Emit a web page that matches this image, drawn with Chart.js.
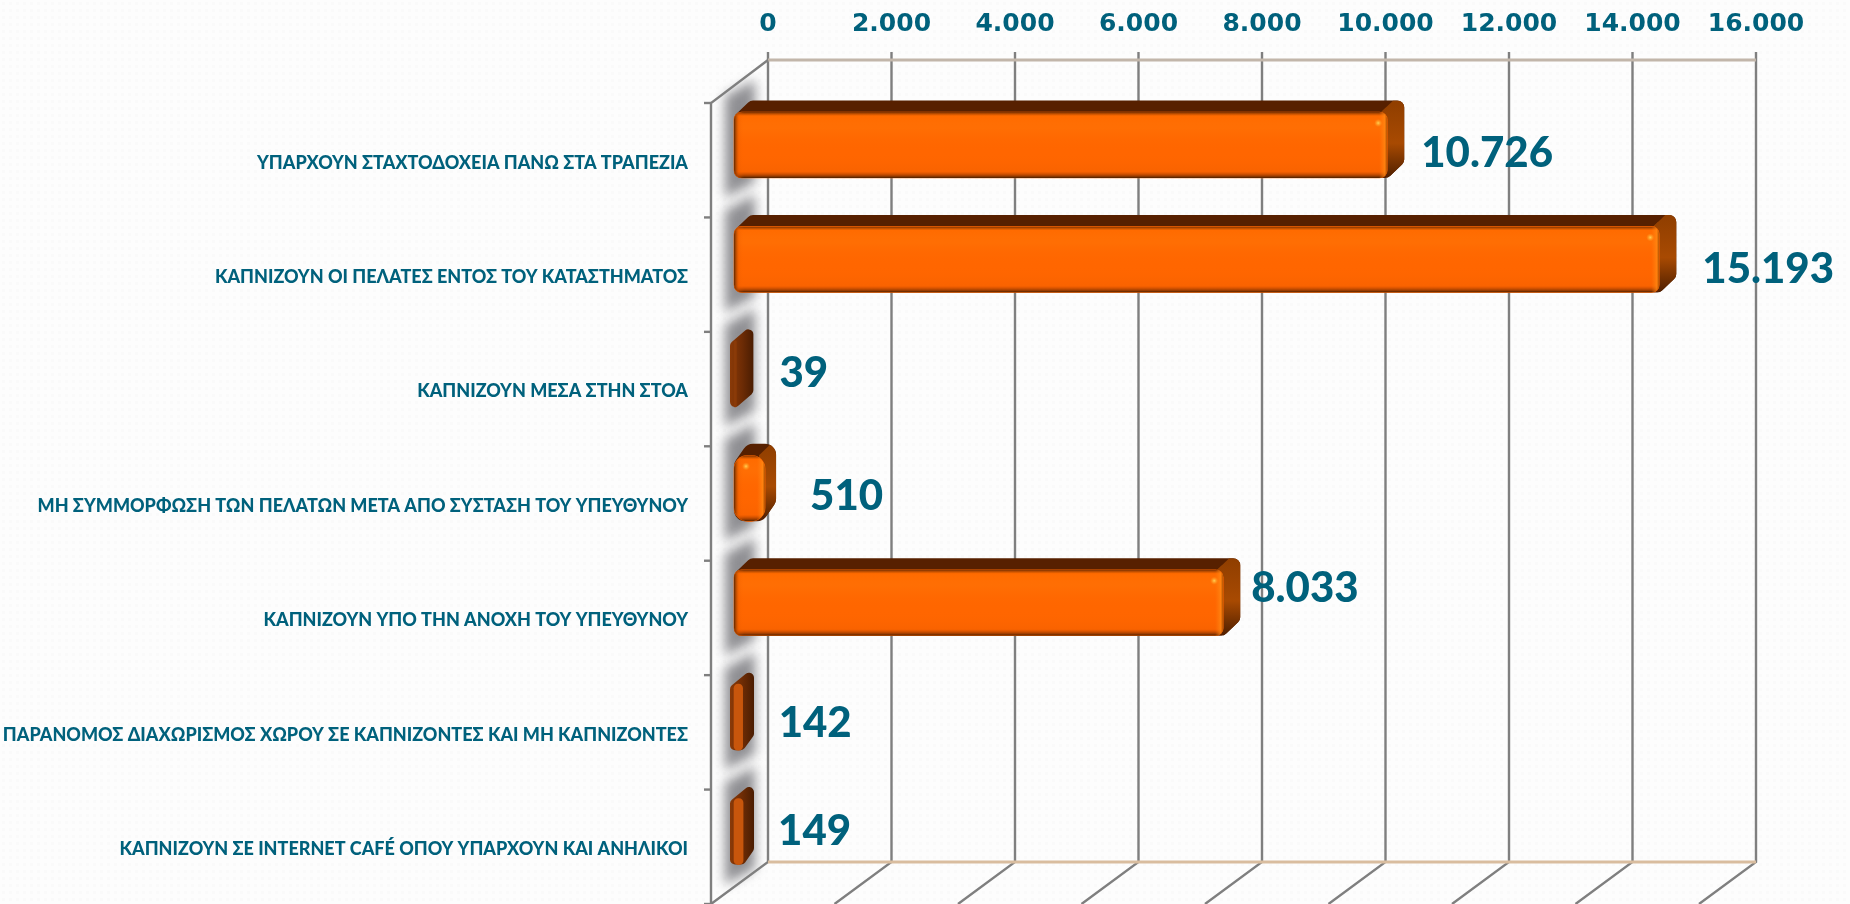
<!DOCTYPE html>
<html>
<head>
<meta charset="utf-8">
<script src="https://cdn.jsdelivr.net/npm/chart.js@4/dist/chart.umd.js"></script>
<style>
html,body{margin:0;padding:0;width:1850px;height:904px;overflow:hidden;background:#fdfdfd;
background-image:radial-gradient(rgba(0,0,0,.012) 35%,transparent 36%);background-size:7px 7px}
canvas{display:block}
</style>
</head>
<body>
<canvas id="c" width="1850" height="904"></canvas>
<script>
const categories = [
  'ΥΠΑΡΧΟΥΝ ΣΤΑΧΤΟΔΟΧΕΙΑ ΠΑΝΩ ΣΤΑ ΤΡΑΠΕΖΙΑ',
  'ΚΑΠΝΙΖΟΥΝ ΟΙ ΠΕΛΑΤΕΣ ΕΝΤΟΣ ΤΟΥ ΚΑΤΑΣΤΗΜΑΤΟΣ',
  'ΚΑΠΝΙΖΟΥΝ ΜΕΣΑ ΣΤΗΝ ΣΤΟΑ',
  'ΜΗ ΣΥΜΜΟΡΦΩΣΗ ΤΩΝ ΠΕΛΑΤΩΝ ΜΕΤΑ ΑΠΌ ΣΥΣΤΑΣΗ ΤΟΥ ΥΠΕΥΘΥΝΟΥ',
  'ΚΑΠΝΙΖΟΥΝ ΥΠΟ ΤΗΝ ΑΝΟΧΗ ΤΟΥ ΥΠΕΥΘΥΝΟΥ',
  'ΠΑΡΑΝΟΜΟΣ ΔΙΑΧΩΡΙΣΜΟΣ ΧΩΡΟΥ ΣΕ ΚΑΠΝΙΖΟΝΤΕΣ ΚΑΙ ΜΗ ΚΑΠΝΙΖΟΝΤΕΣ',
  'ΚΑΠΝΙΖΟΥΝ ΣΕ INTERNET CAFÉ ΟΠΟΥ ΥΠΑΡΧΟΥΝ ΚΑΙ ΑΝΗΛΙΚΟΙ'
];
const values = [10726, 15193, 39, 510, 8033, 142, 149];
const tickLabels = ['0','2.000','4.000','6.000','8.000','10.000','12.000','14.000','16.000'];

/* drawing constants, not data */
const TEAL = '#00617c';
const DEPTH_X = 57, DEPTH_Y = 42;          // wall depth
const BAR_DX = 17, BAR_DY = 11.5;          // bar depth
const SHIFT_X = -34, SHIFT_Y = -15.2;      // bars sit in front of the back wall
const WALL_TOP = 60, TICK_TOP = 52, WALL_BOTTOM = 862;
const labelNudge = [[17,8],[26,10],[26,0],[28,8],[11,-14],[19,6],[18,0]];

function fmt(v){ return String(v).replace(/\B(?=(\d{3})+$)/g,'.'); }

function barBox(el){
  const w = el.x - el.base;
  const small = w < 12;
  const xs = el.base - (small ? 4 : 0);
  const back = small ? Math.min(el.x + BAR_DX, xs + 24) : el.x + (w < 40 ? 11 : BAR_DX);
  return {xs, xe: el.x, back, yt: el.y - 33, yb: el.y + 33, small, w, r: w < 40 ? 11 : 7, fr: w < 40 ? 14 : 8};
}

const wallPlugin = {
  id:'wall',
  beforeDatasetsDraw(chart){
    const {ctx, chartArea:a} = chart;
    const xs = chart.scales.x;
    const x0 = xs.getPixelForValue(0);
    ctx.save();
    ctx.lineCap='butt';
    // shadow on the side wall
    ctx.save();
    ctx.filter='blur(6px)';
    ctx.fillStyle='rgba(115,115,120,.8)';
    chart.getDatasetMeta(0).data.forEach(el=>{
      const c = el.y + SHIFT_Y - 5;
      ctx.beginPath();
      ctx.moveTo(725,c-44);ctx.lineTo(755,c-60);ctx.lineTo(755,c+42);ctx.lineTo(725,c+58);
      ctx.closePath();ctx.fill();
    });
    ctx.restore();
    // back wall grid
    xs.ticks.forEach((t,i)=>{
      const x = xs.getPixelForTick(i);
      ctx.strokeStyle='#7f7f7f';ctx.lineWidth=2.4;
      ctx.beginPath();ctx.moveTo(x,TICK_TOP);ctx.lineTo(x,WALL_BOTTOM);
      ctx.lineTo(x-DEPTH_X,WALL_BOTTOM+DEPTH_Y);ctx.stroke();
    });
    // top & bottom wall edges
    const xr = xs.getPixelForValue(16000);
    ctx.lineWidth=3;
    ctx.strokeStyle='#c2b6aa';
    ctx.beginPath();ctx.moveTo(x0,WALL_TOP);ctx.lineTo(xr,WALL_TOP);ctx.stroke();
    ctx.strokeStyle='#d9bd9f';
    ctx.beginPath();ctx.moveTo(x0,WALL_BOTTOM);ctx.lineTo(xr,WALL_BOTTOM);ctx.stroke();
    // side wall edges
    ctx.strokeStyle='#7f7f7f';ctx.lineWidth=2.4;
    ctx.beginPath();ctx.moveTo(x0,WALL_TOP);ctx.lineTo(x0-DEPTH_X,WALL_TOP+DEPTH_Y+1);
    ctx.lineTo(x0-DEPTH_X,904);ctx.stroke();
    // category tick marks
    for(let i=0;i<=categories.length;i++){
      const y = a.top + (a.bottom-a.top)*i/categories.length;
      ctx.beginPath();ctx.moveTo(x0-DEPTH_X-7,y);ctx.lineTo(x0-DEPTH_X,y);ctx.stroke();
    }
    ctx.restore();
  },
  beforeDatasetDraw(chart){
    const ctx = chart.ctx;
    ctx.save();
    ctx.translate(SHIFT_X,SHIFT_Y);
    chart.getDatasetMeta(0).data.forEach(el=>{
      const b = barBox(el), r = b.small ? 5 : b.r;
      const backX = b.back-r;
      const hull = ()=>{
        ctx.beginPath();
        ctx.moveTo(b.xs+r,b.yb-r);
        ctx.lineTo(b.xs+r,b.yt+r);
        ctx.lineTo(Math.min(b.xs+BAR_DX+2,backX),b.yt-BAR_DY+r);
        ctx.lineTo(backX,b.yt-BAR_DY+r);
        ctx.lineTo(backX,b.yb-BAR_DY-r);
        ctx.lineTo(Math.max(b.xs+r,Math.min(b.xe-2,backX-8)),b.yb-r);
        ctx.closePath();
      };
      ctx.save();
      ctx.lineJoin='round';ctx.lineWidth=2*r;
      let fill = '#572000';
      if(b.small){
        fill = ctx.createLinearGradient(b.xs,0,b.back,0);
        fill.addColorStop(0,'#8a3a08');fill.addColorStop(.5,'#6e2c05');fill.addColorStop(1,'#4a1d02');
      }
      ctx.fillStyle=fill;ctx.strokeStyle=fill;
      hull();ctx.fill();ctx.stroke();
      if(!b.small){
        ctx.beginPath();
        ctx.moveTo(b.xe-6,b.yt);ctx.lineTo(b.xe+6,b.yt-BAR_DY);ctx.lineTo(b.xe+BAR_DX+1,b.yt-BAR_DY);
        ctx.lineTo(b.xe+BAR_DX+1,b.yb-BAR_DY);ctx.lineTo(b.xe,b.yb);ctx.closePath();
        ctx.clip();
        const g = ctx.createLinearGradient(0,b.yt-BAR_DY,0,b.yb);
        g.addColorStop(0,'#8f3e00');g.addColorStop(.55,'#a84a02');g.addColorStop(1,'#4f1f00');
        ctx.fillStyle=g;ctx.strokeStyle=g;
        hull();ctx.fill();ctx.stroke();
      }
      ctx.restore();
    });
  },
  afterDatasetDraw(chart){
    const ctx = chart.ctx;
    chart.getDatasetMeta(0).data.forEach(el=>{
      const b = barBox(el);
      if(b.small) return;
      ctx.save();
      ctx.beginPath();ctx.roundRect(b.xs,b.yt,b.w,66,b.fr);ctx.clip();
      let g = ctx.createLinearGradient(0,b.yt,0,b.yb);
      g.addColorStop(0,'rgba(90,35,0,.85)');g.addColorStop(.06,'rgba(255,110,0,.6)');
      g.addColorStop(.25,'rgba(255,125,10,.35)');g.addColorStop(.6,'rgba(255,102,0,0)');
      g.addColorStop(.9,'rgba(200,70,0,.1)');g.addColorStop(.97,'rgba(130,50,0,.8)');g.addColorStop(1,'rgba(70,30,0,1)');
      ctx.fillStyle=g;ctx.fillRect(b.xs,b.yt,b.w,66);
      g = ctx.createLinearGradient(b.xs,0,b.xe,0);
      const p = 5/b.w, q = Math.min(.45,8/b.w);
      g.addColorStop(0,'rgba(70,30,0,.85)');g.addColorStop(p,'rgba(230,90,0,.25)');g.addColorStop(Math.min(.5,2*p),'rgba(255,102,0,0)');
      g.addColorStop(1-q,'rgba(255,130,20,0)');g.addColorStop(1-p/2,'rgba(255,140,20,.7)');g.addColorStop(1,'rgba(150,70,0,.8)');
      ctx.fillStyle=g;ctx.fillRect(b.xs,b.yt,b.w,66);
      ctx.restore();
      const dx = b.w<40 ? b.xs+12 : b.xe-9, dy = b.yt+11;
      const rg = ctx.createRadialGradient(dx,dy,0,dx,dy,4);
      rg.addColorStop(0,'rgba(255,215,90,.95)');rg.addColorStop(1,'rgba(255,170,40,0)');
      ctx.fillStyle=rg;ctx.fillRect(dx-5,dy-5,10,10);
    });
    ctx.restore();
    ctx.save();
    ctx.font='900 42px Lato';
    ctx.fillStyle=TEAL;ctx.textAlign='left';ctx.textBaseline='middle';
    chart.getDatasetMeta(0).data.forEach((el,i)=>{
      const b = barBox(el);
      ctx.fillText(fmt(values[i]), b.xe+SHIFT_X+BAR_DX+labelNudge[i][0], el.y+SHIFT_Y+labelNudge[i][1]);
    });
    ctx.restore();
  }
};

new Chart(document.getElementById('c'),{
  type:'bar',
  data:{labels:categories,datasets:[{
    data:values,xAxisID:'xBar',yAxisID:'y',clip:false,
    barThickness:66,borderSkipped:false,
    borderRadius:c=>c.raw<1000?14:8,
    backgroundColor:c=>c.raw<100?'#8a3a08':(c.raw<300?'#c8560c':'#ff6600')
  }]},
  plugins:[wallPlugin],
  options:{
    indexAxis:'y',responsive:false,animation:false,devicePixelRatio:1,
    layout:{padding:{left:0,right:94,top:0,bottom:0}},
    plugins:{legend:{display:false},title:{display:false},tooltip:{enabled:false}},
    scales:{
      x:{type:'linear',position:'top',min:0,max:16000,
        grid:{display:false,drawTicks:false},border:{display:false},
        ticks:{stepSize:2000,padding:64,color:TEAL,maxRotation:0,autoSkip:false,
          font:{family:'DejaVu Sans',weight:'bold',size:25},
          callback:(v,i)=>tickLabels[i]},
        afterFit(s){s.height=103;s.paddingLeft=0;s.paddingRight=0;}
      },
      xBar:{type:'linear',position:'top',display:false,min:0,max:16223},
      y:{type:'category',position:'left',
        grid:{display:false,drawTicks:false},border:{display:false},
        ticks:{padding:80,labelOffset:2.5,color:TEAL,autoSkip:false,font:{family:'Lato',weight:'900',size:18}},
        afterFit(s){s.width=768;s.paddingTop=0;s.paddingBottom=0;}
      }
    }
  }
});
</script>
</body>
</html>
